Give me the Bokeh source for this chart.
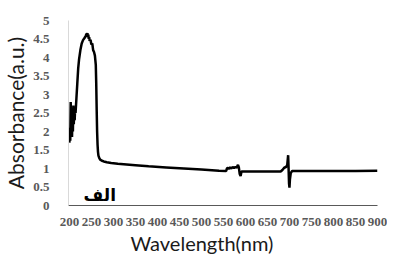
from bokeh.plotting import figure
from bokeh.models import Range1d, FixedTicker, NumeralTickFormatter, Title, ColumnDataSource
from bokeh.core.properties import value
from bokeh.embed import file_html
from bokeh.resources import INLINE

wavelength = [200, 201, 202, 203, 204, 205, 206, 207, 208, 209, 210, 211, 212, 213, 214, 215,
              216, 218, 220, 222, 225, 228, 231, 234, 237, 239, 240, 241, 242, 243, 244, 245,
              246, 248, 250, 252, 254, 256, 258, 260, 261, 262, 263, 264, 265, 266, 268, 270,
              274, 278, 285, 295, 310, 330, 350, 380, 420, 460, 500, 540, 556, 558, 560, 562,
              565, 568, 571, 574, 577, 580, 583, 585, 587, 589, 591, 595, 620, 650, 680, 684,
              688, 692, 695, 697, 698, 699, 700, 701, 703, 706, 720, 760, 800, 850, 900]
absorbance = [1.70, 2.10, 1.75, 2.80, 1.90, 2.20, 1.85, 2.50, 2.00, 2.70, 2.20, 2.65, 2.30, 2.60, 2.50, 2.70,
              2.90, 3.30, 3.70, 3.95, 4.20, 4.38, 4.47, 4.52, 4.58, 4.64, 4.60, 4.66, 4.55, 4.62, 4.50, 4.55,
              4.45, 4.48, 4.35, 4.38, 4.20, 4.15, 4.05, 3.80, 3.30, 2.60, 2.00, 1.65, 1.45, 1.35, 1.28, 1.24,
              1.21, 1.19, 1.17, 1.15, 1.13, 1.11, 1.09, 1.06, 1.03, 1.00, 0.97, 0.94, 0.93, 1.00, 1.02, 0.99,
              1.03, 1.00, 1.04, 1.01, 1.04, 1.02, 1.10, 1.03, 0.85, 0.80, 0.92, 0.92, 0.92, 0.92, 0.92, 0.96,
              1.02, 1.04, 1.10, 1.36, 1.00, 0.60, 0.48, 0.70, 0.88, 0.93, 0.93, 0.93, 0.93, 0.93, 0.94]

x_ticks = list(range(200, 901, 50))
y_ticks = [0, 0.5, 1, 1.5, 2, 2.5, 3, 3.5, 4, 4.5, 5]
x_title = "Wavelength(nm)"
y_title = "Absorbance(a.u.)"
label_text = ["الف"]
label_x = [269]
label_y = [0.29]

p = figure(width=387, height=254, output_backend="svg", toolbar_location=None,
           x_range=Range1d(198, 900), y_range=Range1d(0, 5),
           min_border_left=61, min_border_right=10, min_border_top=20, min_border_bottom=0)
p.outline_line_color = None
p.grid.visible = False
p.background_fill_color = "white"
p.border_fill_color = "white"

p.line(wavelength, absorbance, line_color="black", line_width=2.5)

src = ColumnDataSource(dict(x=label_x, y=label_y, t=label_text))
p.text(x="x", y="y", text="t", source=src, text_font=value("DejaVu Sans"),
       text_font_style="bold", text_font_size="17px", text_color="black",
       text_align="center", text_baseline="middle")

for ax in (p.xaxis[0], p.yaxis[0]):
    ax.major_tick_line_color = None
    ax.minor_tick_line_color = None
    ax.major_label_text_font = "Times New Roman"
    ax.major_label_text_font_style = "bold"
    ax.major_label_text_font_size = "13px"
    ax.major_label_text_color = "#595959"

p.xaxis.ticker = FixedTicker(ticks=x_ticks)
p.yaxis.ticker = FixedTicker(ticks=y_ticks)
p.yaxis.formatter = NumeralTickFormatter(format="0.[0]")
p.xaxis.axis_line_color = "#595959"
p.yaxis.axis_line_color = "#d9d9d9"
p.xaxis.major_label_standoff = 6
p.yaxis.major_label_standoff = 13

p.yaxis.axis_label = y_title
p.yaxis.axis_label_text_font = "Lato"
p.yaxis.axis_label_text_font_style = "normal"
p.yaxis.axis_label_text_font_size = "21px"
p.yaxis.axis_label_text_color = "#1a1a1a"
p.yaxis.axis_label_standoff = 2

p.add_layout(Title(text=x_title, align="left", offset=62, text_font="Lato",
                   text_font_style="normal", text_font_size="20px", text_color="#1a1a1a",
                   standoff=0), "below")

open("out.html", "w").write(file_html(p, INLINE))
